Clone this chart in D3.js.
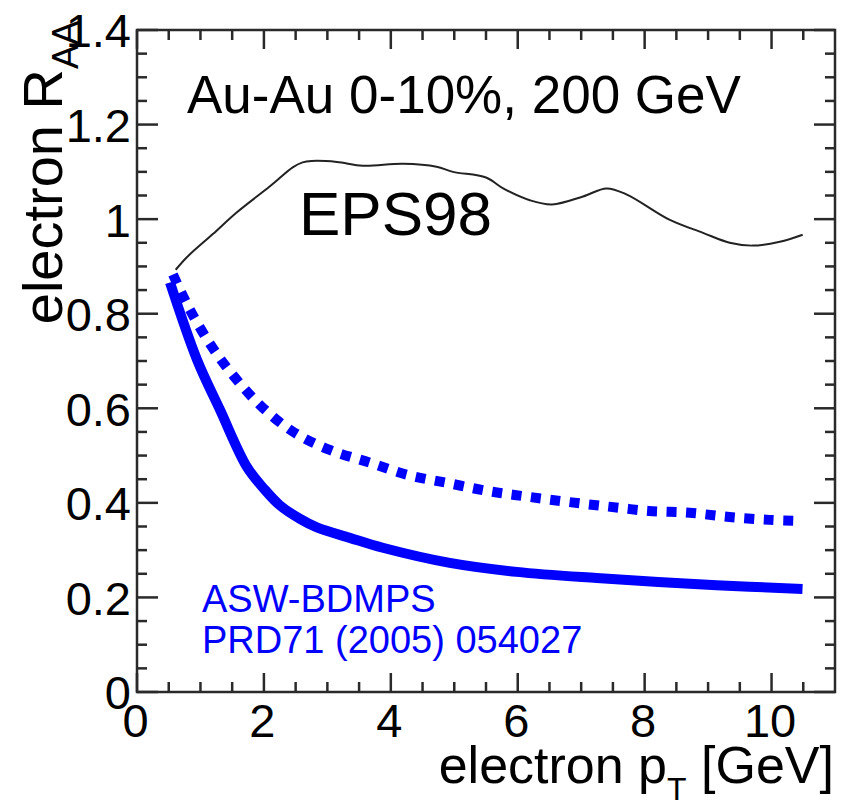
<!DOCTYPE html>
<html>
<head>
<meta charset="utf-8">
<script src="https://cdn.jsdelivr.net/npm/d3@7"></script>
<style>
  html, body { margin: 0; padding: 0; background: #fff; }
  svg { display: block; font-family: "Liberation Sans", Arial, Helvetica, sans-serif; }
</style>
</head>
<body>
<svg id="chart" width="846" height="807"></svg>
<script>
// EPS98 nuclear-modification curve (thin black)
const ptEps  = [0.61, 0.79, 1.20, 1.57, 2.09, 2.46, 2.61, 2.75, 3.15, 3.56, 4.19, 4.72, 4.98, 5.50, 5.77, 6.19, 6.54, 7.03, 7.40, 7.72, 8.39, 8.92, 9.34, 9.70, 10.13, 10.49];
const raaEps = [0.893, 0.920, 0.969, 1.014, 1.069, 1.110, 1.120, 1.123, 1.121, 1.113, 1.117, 1.111, 1.100, 1.088, 1.065, 1.040, 1.031, 1.048, 1.065, 1.052, 0.999, 0.971, 0.950, 0.944, 0.952, 0.967];

// ASW-BDMPS, strong suppression (thick solid blue)
const ptAswLow  = [0.52, 0.945, 1.307, 1.732, 2.00, 2.25, 2.57, 2.835, 3.354, 3.874, 4.929, 5.984, 7.244, 9.134, 10.488];
const raaAswLow = [0.866, 0.703, 0.597, 0.476, 0.430, 0.395, 0.366, 0.348, 0.326, 0.305, 0.273, 0.254, 0.241, 0.226, 0.218];

// ASW-BDMPS, weaker suppression (thick dotted blue)
const ptAswHigh  = [0.567, 0.835, 1.181, 1.543, 1.984, 2.488, 3.039, 3.669, 4.268, 4.898, 5.528, 6.157, 6.787, 7.433, 8.063, 8.709, 9.339, 9.969, 10.39];
const raaAswHigh = [0.883, 0.808, 0.730, 0.665, 0.601, 0.548, 0.512, 0.485, 0.459, 0.442, 0.425, 0.413, 0.402, 0.392, 0.383, 0.379, 0.370, 0.364, 0.362];

// Axis ticks
const xMajorTicks = [0, 2, 4, 6, 8, 10];
const xMinorTicks = [0.5, 1, 1.5, 2.5, 3, 3.5, 4.5, 5, 5.5, 6.5, 7, 7.5, 8.5, 9, 9.5, 10.5];
const yMajorTicks = [0, 0.2, 0.4, 0.6, 0.8, 1, 1.2, 1.4];
const yMinorTicks = [0.05, 0.1, 0.15, 0.25, 0.3, 0.35, 0.45, 0.5, 0.55, 0.65, 0.7, 0.75, 0.85, 0.9, 0.95, 1.05, 1.1, 1.15, 1.25, 1.3, 1.35];

const svg = d3.select("#chart");
const margin = { left: 137, top: 30, right: 11, bottom: 115 };
const W = 846 - margin.left - margin.right;
const H = 807 - margin.top - margin.bottom;

const x = d3.scaleLinear().domain([0, 11]).range([0, W]);
const y = d3.scaleLinear().domain([0, 1.4]).range([H, 0]);

const g = svg.append("g").attr("transform", `translate(${margin.left},${margin.top})`);
const tickColor = "#2a2a2a";

// inward tick marks on all four sides
const tickG = g.append("g").attr("class", "ticks");
function addTicks(cls, vals, x1, x2, y1, y2) {
  tickG.selectAll("line." + cls).data(vals).enter().append("line")
    .attr("class", cls)
    .attr("x1", x1).attr("x2", x2).attr("y1", y1).attr("y2", y2)
    .style("stroke", tickColor).style("stroke-width", "2.5px");
}
addTicks("xb-min", xMinorTicks, d => x(d), d => x(d), H, H - 10);
addTicks("xb-maj", xMajorTicks, d => x(d), d => x(d), H, H - 19);
addTicks("xt-min", xMinorTicks, d => x(d), d => x(d), 0, 10);
addTicks("xt-maj", xMajorTicks, d => x(d), d => x(d), 0, 19);
addTicks("yl-min", yMinorTicks, 0, 10, d => y(d), d => y(d));
addTicks("yl-maj", yMajorTicks, 0, 21, d => y(d), d => y(d));
addTicks("yr-min", yMinorTicks, W, W - 10, d => y(d), d => y(d));
addTicks("yr-maj", yMajorTicks, W, W - 21, d => y(d), d => y(d));

// tick labels
const fmt = d => String(+d.toFixed(1));
const xl = g.append("g").attr("transform", `translate(0,${H})`)
  .call(d3.axisBottom(x).tickValues(xMajorTicks).tickSize(0).tickFormat(fmt));
xl.select(".domain").remove();
xl.selectAll("text").attr("y", 45).attr("dy", 0).attr("dx", -2)
  .attr("font-size", 47).attr("fill", "#000");
xl.attr("font-family", null);

const yl = g.append("g")
  .call(d3.axisLeft(y).tickValues(yMajorTicks).tickSize(0).tickFormat(fmt));
yl.select(".domain").remove();
yl.selectAll("text").attr("x", -6).attr("dy", "0.36em")
  .attr("font-size", 47).attr("fill", "#000");
yl.attr("font-family", null);

// frame
g.append("rect").attr("x", 0).attr("y", 0).attr("width", W).attr("height", H)
  .attr("fill", "none").attr("stroke", tickColor).attr("stroke-width", 2.5);

// curves
const line = (xs, ys) => d3.line()
  .x((d, i) => x(xs[i])).y((d, i) => y(ys[i]))
  .curve(d3.curveCatmullRom.alpha(0.5))(xs);

g.append("path").attr("d", line(ptAswLow, raaAswLow))
  .attr("fill", "none").attr("stroke", "#0000ff").attr("stroke-width", 10)
  .attr("stroke-linejoin", "round");

g.append("path").attr("d", line(ptAswHigh, raaAswHigh))
  .attr("fill", "none").attr("stroke", "#0000ff").attr("stroke-width", 10)
  .attr("stroke-dasharray", "10 9.5");

g.append("path").attr("d", line(ptEps, raaEps))
  .attr("fill", "none").attr("stroke", "#222").attr("stroke-width", 2);

// annotations
svg.append("text").attr("x", 187).attr("y", 113).attr("font-size", 53)
  .attr("fill", "#000").text("Au-Au 0-10%, 200 GeV");
svg.append("text").attr("x", 299).attr("y", 235).attr("font-size", 62)
  .attr("fill", "#000").text("EPS98");
svg.append("text").attr("x", 202).attr("y", 612).attr("font-size", 38)
  .attr("fill", "#0000ff").text("ASW-BDMPS");
svg.append("text").attr("x", 202).attr("y", 653).attr("font-size", 38)
  .attr("fill", "#0000ff").text("PRD71 (2005) 054027");

// axis titles
const xt = svg.append("text").attr("x", 834).attr("y", 783)
  .attr("text-anchor", "end").attr("font-size", 52).attr("fill", "#000");
xt.append("tspan").text("electron p");
xt.append("tspan").attr("font-size", 32).attr("dy", 17).text("T");
xt.append("tspan").attr("dy", -17).text(" [GeV]");

const yt = svg.append("text").attr("transform", "translate(62,21) rotate(-90)")
  .attr("text-anchor", "end").attr("font-size", 56).attr("fill", "#000");
yt.append("tspan").text("electron R");
yt.append("tspan").attr("font-size", 36).attr("dy", 16).text("AA");
</script>
</body>
</html>
